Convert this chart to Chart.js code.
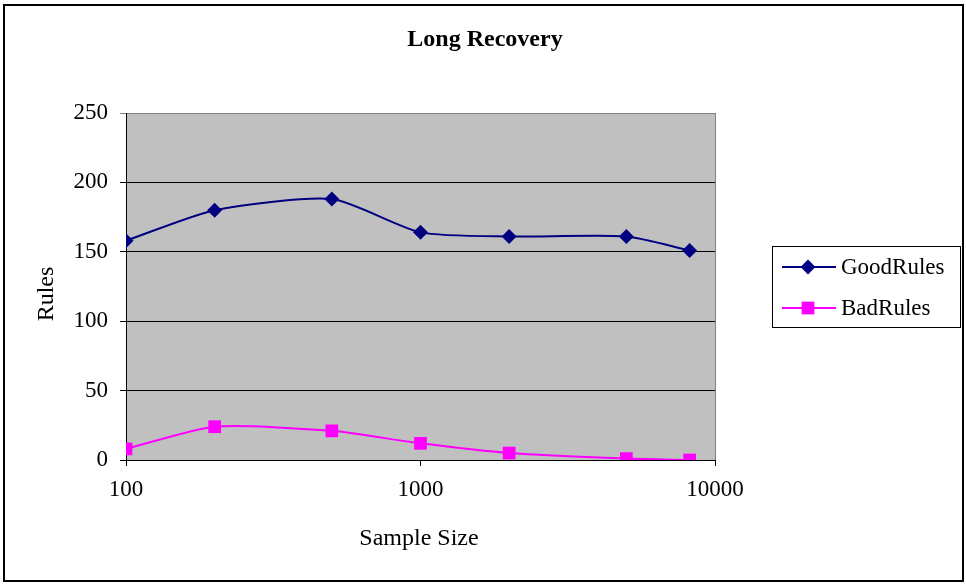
<!DOCTYPE html>
<html><head><meta charset="utf-8">
<script src="https://cdn.jsdelivr.net/npm/chart.js@4"></script>
<style>html,body{margin:0;padding:0;background:#fff;overflow:hidden;}canvas{display:block;}</style>
</head><body>
<canvas id="c" width="966" height="586"></canvas>
<script>
const chartTitle = 'Long Recovery';
const xTitle = 'Sample Size';
const yTitle = 'Rules';
const sampleSizes = [100, 200, 500, 1000, 2000, 5000, 8200];
const goodRules = [158, 180, 188, 164, 161, 161, 151];
const badRules = [8, 24, 21, 12, 5, 1, 0];
const xTickValues = [100, 1000, 10000];
const yTickValues = [0, 50, 100, 150, 200, 250];
const seriesNames = ['GoodRules', 'BadRules'];

const FONT = '"Liberation Serif", "Times New Roman", serif';
const PLOT = {left: 126, right: 715, top: 113, bottom: 460};

const decor = {
  id: 'decor',
  beforeDraw(chart) {
    const ctx = chart.ctx, a = chart.chartArea;
    ctx.save();
    ctx.fillStyle = '#fff';
    ctx.fillRect(0, 0, chart.width, chart.height);
    ctx.strokeStyle = '#000';
    ctx.lineWidth = 2;
    ctx.strokeRect(4, 5, 959, 576);
    ctx.fillStyle = '#c0c0c0';
    ctx.fillRect(a.left, a.top, a.right - a.left, a.bottom - a.top);
    ctx.restore();
  },
  afterDraw(chart) {
    const ctx = chart.ctx, a = chart.chartArea;
    ctx.save();
    ctx.strokeStyle = '#808080';
    ctx.lineWidth = 1;
    ctx.beginPath();
    ctx.moveTo(a.right + 0.5, a.top);
    ctx.lineTo(a.right + 0.5, a.bottom);
    ctx.stroke();
    ctx.fillStyle = '#000';
    ctx.textAlign = 'center';
    ctx.textBaseline = 'alphabetic';
    ctx.font = 'bold 24px ' + FONT;
    ctx.fillText(chartTitle, 485, 46);
    ctx.font = '24px ' + FONT;
    ctx.fillText(xTitle, 419, 545);
    ctx.save();
    ctx.translate(53, 294);
    ctx.rotate(-Math.PI / 2);
    ctx.fillText(yTitle, 0, 0);
    ctx.restore();
    ctx.fillStyle = '#fff';
    ctx.fillRect(772, 246, 189, 82);
    ctx.strokeStyle = '#000';
    ctx.lineWidth = 1;
    ctx.strokeRect(772.5, 246.5, 188, 81);
    const rows = [267, 308];
    chart.data.datasets.forEach((ds, i) => {
      const y = rows[i];
      ctx.strokeStyle = ds.borderColor;
      ctx.lineWidth = 2;
      ctx.beginPath();
      ctx.moveTo(782, y);
      ctx.lineTo(836, y);
      ctx.stroke();
      ctx.fillStyle = ds.pointBackgroundColor;
      Chart.helpers.drawPoint(ctx, {pointStyle: ds.pointStyle, radius: ds.pointRadius, rotation: 0, borderWidth: 0}, 808, y);
      ctx.fillStyle = '#000';
      ctx.textAlign = 'left';
      ctx.textBaseline = 'middle';
      ctx.font = '23px ' + FONT;
      ctx.fillText(ds.label, 841, y + 1);
    });
    ctx.restore();
  }
};

const toPts = (vals) => sampleSizes.map((x, i) => ({x: x, y: vals[i]}));

new Chart(document.getElementById('c'), {
  type: 'line',
  data: {
    datasets: [
      {label: seriesNames[0], data: toPts(goodRules), borderColor: '#000080', backgroundColor: '#000080',
       pointBackgroundColor: '#000080', pointBorderColor: '#000080', pointStyle: 'rectRot', pointRadius: 7.5,
       pointBorderWidth: 0, borderWidth: 2, tension: 0.22, fill: false},
      {label: seriesNames[1], data: toPts(badRules), borderColor: '#ff00ff', backgroundColor: '#ff00ff',
       pointBackgroundColor: '#ff00ff', pointBorderColor: '#ff00ff', pointStyle: 'rect', pointRadius: 9,
       pointBorderWidth: 0, borderWidth: 2, tension: 0.22, fill: false}
    ]
  },
  options: {
    responsive: false,
    animation: false,
    devicePixelRatio: 1,
    layout: {padding: {left: 0, top: PLOT.top, right: 966 - PLOT.right, bottom: 0}},
    plugins: {legend: {display: false}, title: {display: false}, tooltip: {enabled: false}},
    scales: {
      x: {
        type: 'logarithmic', min: 100, max: 10000,
        afterBuildTicks: (s) => { s.ticks = xTickValues.map(v => ({value: v})); },
        afterFit: (s) => { s.height = 586 - PLOT.bottom; },
        ticks: {color: '#000', font: {family: FONT, size: 23}, padding: 10, maxRotation: 0,
                callback: (v) => String(v)},
        grid: {drawOnChartArea: false, drawTicks: true, tickLength: 6, color: '#000'},
        border: {color: '#000', width: 1}
      },
      y: {
        type: 'linear', min: 0, max: 250,
        afterBuildTicks: (s) => { s.ticks = yTickValues.map(v => ({value: v})); },
        afterFit: (s) => { s.width = PLOT.left; },
        ticks: {color: '#000', font: {family: FONT, size: 23}, padding: 12},
        grid: {color: (c) => c.tick && c.tick.value === 250 ? '#808080' : '#000', tickLength: 6, lineWidth: 1},
        border: {color: '#000', width: 1}
      }
    }
  },
  plugins: [decor]
});
</script>
</body></html>
